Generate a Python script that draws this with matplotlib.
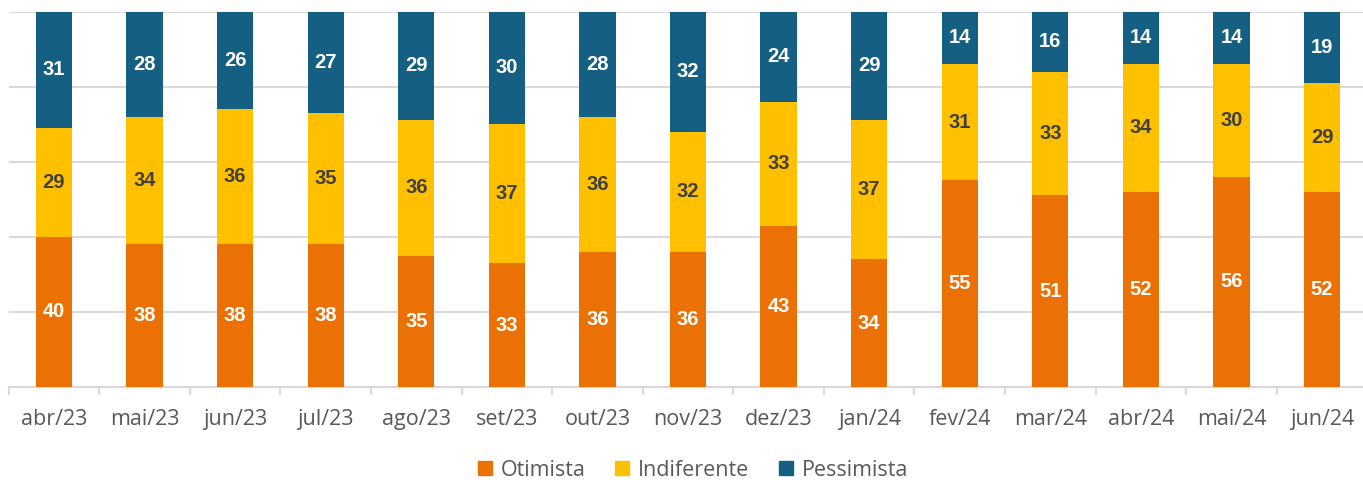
import matplotlib
matplotlib.use("Agg")
import matplotlib.pyplot as plt
import numpy as np
from matplotlib.patches import Patch

months = ["abr/23", "mai/23", "jun/23", "jul/23", "ago/23", "set/23", "out/23",
          "nov/23", "dez/23", "jan/24", "fev/24", "mar/24", "abr/24", "mai/24", "jun/24"]
otimista = [40, 38, 38, 38, 35, 33, 36, 36, 43, 34, 55, 51, 52, 56, 52]
indiferente = [29, 34, 36, 35, 36, 37, 36, 32, 33, 37, 31, 33, 34, 30, 29]
pessimista = [31, 28, 26, 27, 29, 30, 28, 32, 24, 29, 14, 16, 14, 14, 19]
series_names = ["Otimista", "Indiferente", "Pessimista"]

c_orange = "#EC7104"
c_yellow = "#FFC000"
c_blue = "#156082"
grid_c = "#D9D9D9"
text_c = "#595959"

plt.rcParams['font.family'] = ['Open Sans', 'DejaVu Sans']

W, H = 1363, 482
fig = plt.figure(figsize=(W/100, H/100), dpi=100)
ax = fig.add_axes([8.7/W, (H-387)/H, 1358.6/W, 375.5/H])

x = np.arange(len(months))
bw = 0.40
o = np.array(otimista, float)
i_ = np.array(indiferente, float)
p = np.array(pessimista, float)

ax.bar(x, o, bw, color=c_orange, zorder=3)
ax.bar(x, i_, bw, bottom=o, color=c_yellow, zorder=3)
ax.bar(x, p, bw, bottom=o+i_, color=c_blue, zorder=3)

lab_kw = dict(ha="center", va="center", fontsize=14.5, fontweight="bold",
              family=['Liberation Sans', 'DejaVu Sans'], zorder=4)
for k in range(len(x)):
    ax.text(x[k], o[k]/2, f"{otimista[k]}", color="white", **lab_kw)
    ax.text(x[k], o[k] + i_[k]/2, f"{indiferente[k]}", color="#404040", **lab_kw)
    ax.text(x[k], o[k] + i_[k] + p[k]/2, f"{pessimista[k]}", color="white", **lab_kw)

ax.set_xlim(-0.5, len(x) - 0.5)
ax.set_ylim(0, 100)
ax.set_yticks([20, 40, 60, 80, 100])
ax.yaxis.grid(True, color=grid_c, linewidth=1.5, zorder=0)
ax.tick_params(axis="y", left=False, labelleft=False)

ax.set_xticks(x)
ax.set_xticklabels(months, fontsize=15.5, color=text_c)
ax.tick_params(axis="x", which="major", length=0, pad=16)
ax.set_xticks(np.arange(-0.5, len(x) + 0.5, 1), minor=True)
ax.tick_params(axis="x", which="minor", length=6, width=1.5, color=grid_c)

for s in ["top", "right", "left"]:
    ax.spines[s].set_visible(False)
ax.spines["bottom"].set_color(grid_c)
ax.spines["bottom"].set_linewidth(1.5)

handles = [Patch(color=c) for c in (c_orange, c_yellow, c_blue)]
fig.legend(handles, series_names, loc="center", bbox_to_anchor=(693/W, 1 - 470/H),
           ncol=3, frameon=False, fontsize=15.5, labelcolor=text_c,
           handlelength=0.65, handleheight=0.65, handletextpad=0.4, columnspacing=1.4)

fig.savefig("out.png", dpi=100)
